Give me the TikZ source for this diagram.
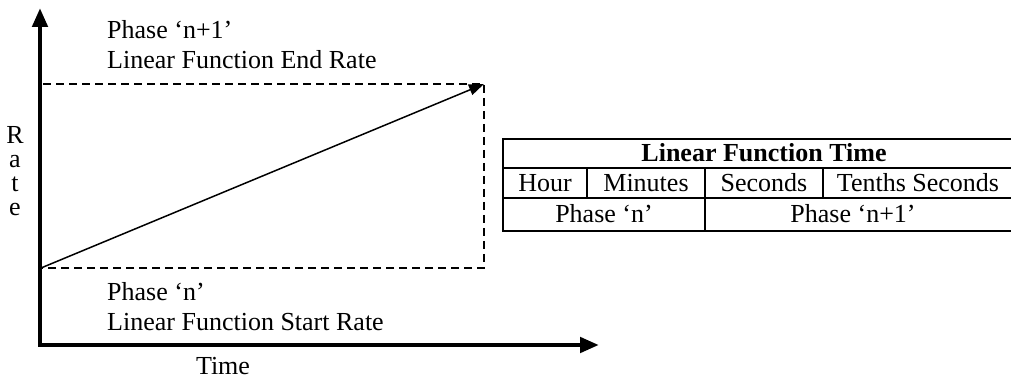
\documentclass[tikz,border=0pt]{standalone}
\usepackage{fontspec}
\setmainfont{Liberation Serif}
\usetikzlibrary{arrows.meta}
\begin{document}
\begin{tikzpicture}[x=1pt,y=-1pt,
  lbl/.style={inner sep=0pt,anchor=base west,font=\fontsize{26}{30}\selectfont},
  cell/.style={inner sep=0pt,anchor=base,font=\fontsize{26}{30}\selectfont},
  axisline/.style={line width=4.6pt,{Triangle[length=19pt,width=15pt]}-{Triangle[length=19pt,width=15pt]}},
  guide/.style={line width=1.4pt,dash pattern=on 8pt off 5pt},
  rateline/.style={line width=1.5pt,-{Triangle[length=15pt,width=11pt]}},
  grid/.style={line width=1.6pt}]
\useasboundingbox (0,0) rectangle (1011,379);
% coordinates
\coordinate (ytip) at (40,8);
\coordinate (origin) at (40,345);
\coordinate (xtip) at (599,345);
\coordinate (start) at (41,268);
\coordinate (end) at (484,84);
\coordinate (tl) at (43,84);
\coordinate (br) at (484,268);
\coordinate (bl) at (42,268);
% axes
\draw[axisline] (ytip) -- (origin) -- (xtip);
% dashed guides
\draw[guide] (tl) -- (end) -- (br) -- (bl);
% rate line
\draw[rateline] (start) -- (end);
% labels
\node[lbl] (p1) at (107,39) {Phase ‘n+1’};
\node[lbl] (p1b) at (107,69) {Linear Function End Rate};
\node[lbl] (p0) at (107,300) {Phase ‘n’};
\node[lbl] (p0b) at (107,330) {Linear Function Start Rate};
\node[cell] (time) at (223,374) {Time};
\node[cell] (r1) at (15,144) {R};
\node[cell] (r2) at (15,168) {a};
\node[cell] (r3) at (15,192) {t};
\node[cell] (r4) at (15,216) {e};
% table
\draw[grid] (1015,139) -- (503,139) -- (503,231) -- (1015,231);
\draw[grid] (503,168) -- (1015,168);
\draw[grid] (503,198) -- (1015,198);
\draw[grid] (587,168) -- (587,198);
\draw[grid] (705,168) -- (705,231);
\draw[grid] (823,168) -- (823,198);
\node[cell,font=\fontsize{26}{30}\selectfont\bfseries] (th) at (764,162) {Linear Function Time};
\node[cell] (c1) at (545,192) {Hour};
\node[cell] (c2) at (646,192) {Minutes};
\node[cell] (c3) at (764,192) {Seconds};
\node[cell] (c4) at (918,192) {Tenths Seconds};
\node[cell] (d1) at (604,223) {Phase ‘n’};
\node[cell] (d2) at (853,223) {Phase ‘n+1’};
\end{tikzpicture}
\end{document}
